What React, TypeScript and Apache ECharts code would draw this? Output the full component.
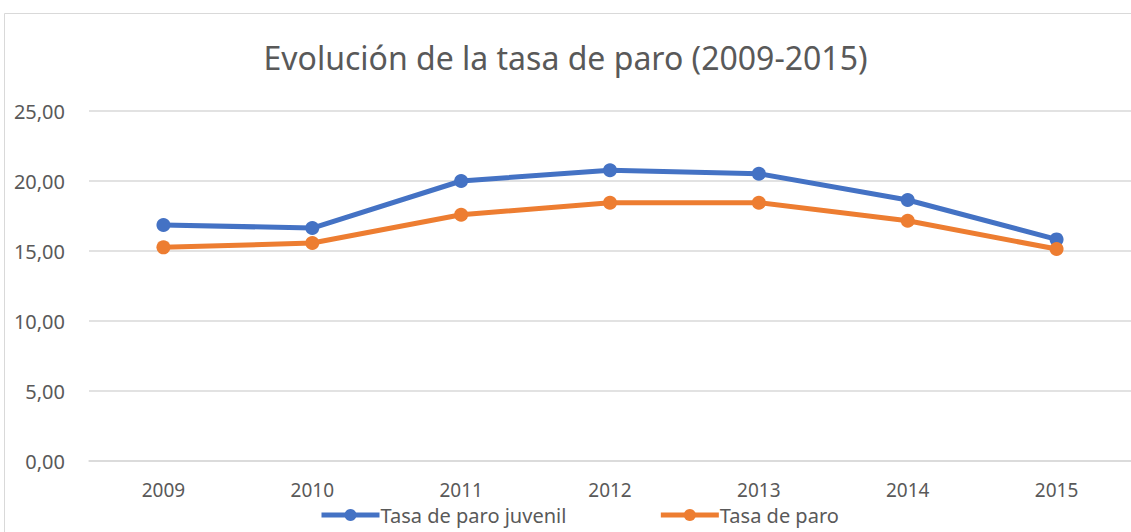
import React, { useEffect, useRef } from "react";
import * as echarts from "echarts";

const years = ["2009", "2010", "2011", "2012", "2013", "2014", "2015"];
const juvenil = [16.86, 16.64, 20.0, 20.77, 20.52, 18.64, 15.83];
const paro = [15.26, 15.57, 17.59, 18.45, 18.45, 17.16, 15.14];
const seriesNames = ["Tasa de paro juvenil", "Tasa de paro"];
const titleText = "Evolución de la tasa de paro (2009-2015)";

const FONT = "'Noto Sans', 'Open Sans', sans-serif";
const GREY = "#595959";

export default function App() {
  const ref = useRef<HTMLDivElement>(null);
  useEffect(() => {
    document.body.style.margin = "0";
    const chart = echarts.init(ref.current!, null, { renderer: "svg" });
    chart.setOption({
      animation: false,
      backgroundColor: "#ffffff",
      textStyle: { fontFamily: FONT },
      title: {
        text: titleText,
        left: "center",
        top: 36,
        textStyle: { fontFamily: FONT, fontSize: 32, fontWeight: "normal", color: GREY },
      },
      graphic: [
        {
          type: "rect",
          shape: { x: 4.5, y: 13.5, width: 1200, height: 700 },
          style: { fill: "none", stroke: "#D9D9D9", lineWidth: 1 },
          silent: true,
        },
      ],
      grid: { left: 89, right: 0, top: 111, bottom: 71, containLabel: false },
      legend: {
        bottom: 2,
        left: 314,
        itemWidth: 58,
        itemHeight: 15,
        itemGap: 92,
        lineStyle: { width: 5 },
        textStyle: {
          fontFamily: FONT,
          fontSize: 20,
          lineHeight: 20,
          color: GREY,
          padding: [0, 0, 0, -4],
        },
        data: seriesNames,
      },
      xAxis: {
        type: "category",
        data: years,
        boundaryGap: true,
        axisLine: { show: true, lineStyle: { color: "#D9D9D9", width: 1.5 } },
        axisTick: { show: false },
        axisLabel: {
          color: GREY,
          fontSize: 19,
          lineHeight: 19,
          margin: 19,
          fontFamily: FONT,
        },
      },
      yAxis: {
        type: "value",
        min: 0,
        max: 25,
        interval: 5,
        axisLine: { show: false },
        axisTick: { show: false },
        splitLine: { lineStyle: { color: "#D9D9D9", width: 1.5 } },
        axisLabel: {
          color: GREY,
          fontSize: 20,
          margin: 24,
          fontFamily: FONT,
          formatter: (v: number) => v.toFixed(2).replace(".", ","),
        },
      },
      series: [
        {
          name: seriesNames[0],
          type: "line",
          data: juvenil,
          symbol: "circle",
          symbolSize: 14,
          lineStyle: { width: 5, color: "#4472C4" },
          itemStyle: { color: "#4472C4" },
        },
        {
          name: seriesNames[1],
          type: "line",
          data: paro,
          symbol: "circle",
          symbolSize: 14,
          lineStyle: { width: 5, color: "#ED7D31" },
          itemStyle: { color: "#ED7D31" },
        },
      ],
    });
    return () => chart.dispose();
  }, []);
  return <div ref={ref} style={{ width: 1131, height: 532 }} />;
}
